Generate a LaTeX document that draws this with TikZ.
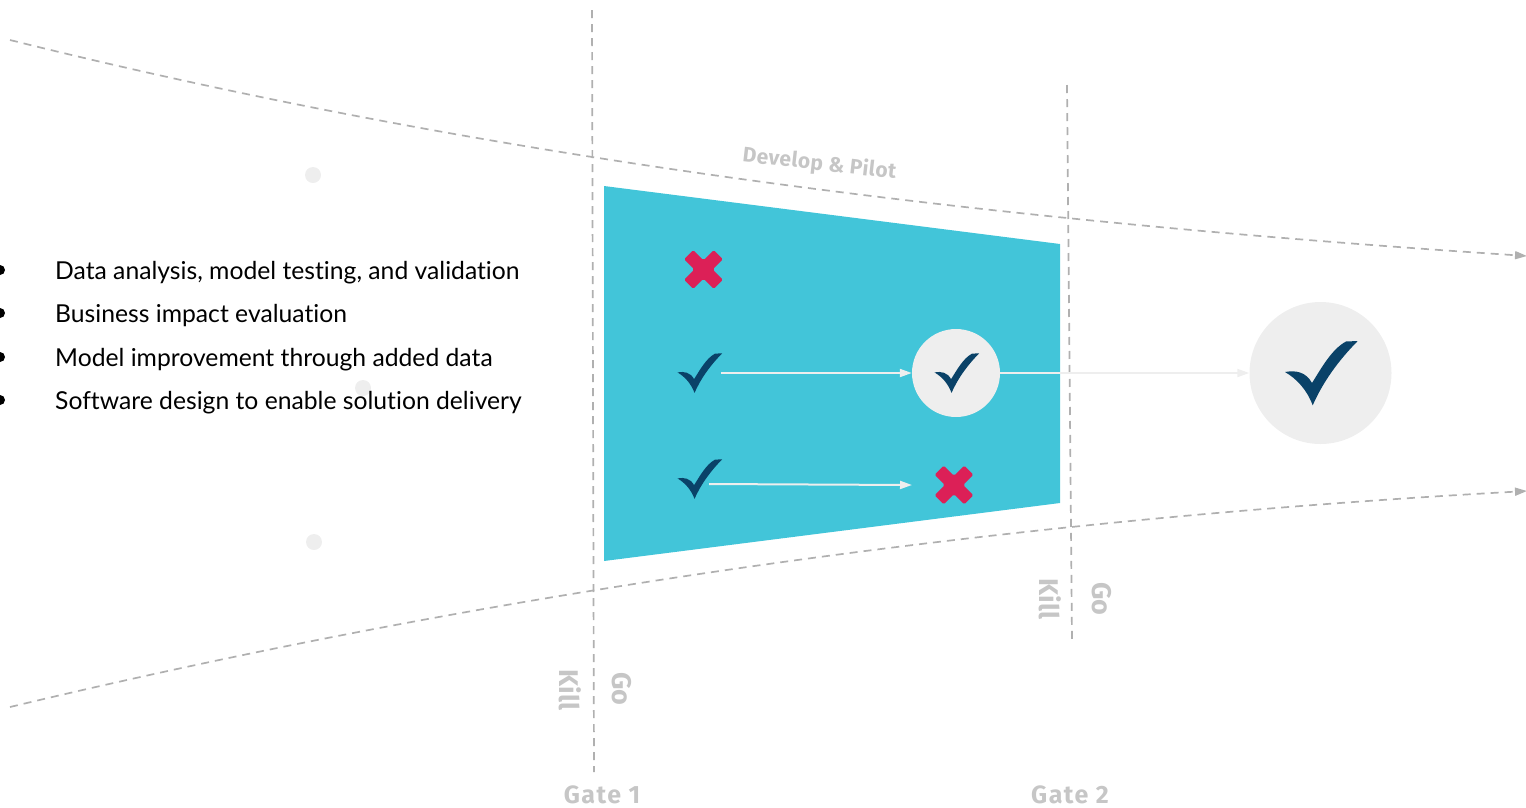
\documentclass[tikz,border=0pt]{standalone}
\usepackage{fontspec}
\setmainfont{Lato}[Ligatures=NoCommon]
\newfontfamily\labelfont{Fira Sans}[UprightFont=* Bold]
\newfontfamily\gatefont{Fira Sans}[UprightFont=* Bold,LetterSpace=6]
\newfontfamily\devfont{Fira Sans}[UprightFont=* Bold,LetterSpace=2]
\usetikzlibrary{arrows.meta}
\definecolor{teal}{HTML}{42C5D9}
\definecolor{navy}{HTML}{0A4268}
\definecolor{crimson}{HTML}{DC2057}
\definecolor{soft}{HTML}{EEEEEE}
\definecolor{guide}{HTML}{B0B0B0}
\definecolor{labelgrey}{HTML}{C6C6C6}
\tikzset{
  guideline/.style={draw=guide,line width=1.7pt,dash pattern=on 8pt off 6pt},
  guidearrow/.style={guideline,-{Triangle[length=12pt,width=8pt,fill=guide]}},
  flow/.style={draw=soft,line width=2pt,-{Triangle[length=12pt,width=8pt,fill=soft]}},
  softdot/.style={circle,fill=soft,minimum size=16pt,inner sep=0pt},
  gatelabel/.style={font=\gatefont\fontsize{25}{25}\selectfont,text=labelgrey,inner sep=0pt,anchor=base},
  sidelabel/.style={font=\labelfont\fontsize{27}{27}\selectfont,text=labelgrey,inner sep=0pt,rotate=-90},
  bulletdot/.style={circle,fill=black,minimum size=10pt,inner sep=0pt},
  itemtext/.style={anchor=base west,inner sep=0pt,font=\fontsize{24.7}{28}\selectfont,text=black},
  hub/.style={circle,fill=soft,inner sep=0pt},
}
\newcommand{\tick}[2]{% centre, scale
  \fill[navy,shift={#1},scale=#2] (-35,-1) .. controls (-24,-3) and (-14,-1) .. (-8,10)
    .. controls (2,-6) and (12,-24) .. (26,-31.5) -- (37.7,-32)
    .. controls (18,-12) and (3,9) .. (-7.3,32.3)
    .. controls (-13,17) and (-23,6) .. (-35,-1) -- cycle;}
\newcommand{\cross}[1]{%
  \fill[crimson,shift={#1},rotate=45,rounded corners=1.6pt]
    (-6.5,-21) -- (6.5,-21) -- (6.5,-6.5) -- (21,-6.5) -- (21,6.5) -- (6.5,6.5) -- (6.5,21) -- (-6.5,21) -- (-6.5,6.5) -- (-21,6.5) -- (-21,-6.5) -- (-6.5,-6.5) -- cycle;}
\begin{document}
\begin{tikzpicture}[x=1pt,y=-1pt]
\useasboundingbox (0,0) rectangle (1526,807);
% faint dots
\node[softdot] (d1) at (313,175) {};
\node[softdot] (d2) at (363,388) {};
\node[softdot] (d3) at (314,542) {};
% bullets
\begin{scope}
\clip (0,0) rectangle (1526,807);
\foreach \n/\y in {a/270,b/313,c/357,d/400}{\node[bulletdot] (b\n) at (0,\y) {};}
\end{scope}
\node[itemtext] (ta) at (55,279) {Data analysis, model testing, and validation};
\node[itemtext] (tb) at (55,322) {Business impact evaluation};
\node[itemtext] (tc) at (55,366) {Model improvement through added data};
\node[itemtext] (td) at (55,409) {Software design to enable solution delivery};
% funnel
\fill[teal] (604,186) -- (1060,244) -- (1060,503) -- (604,561) -- cycle;
% guides
\coordinate (g1t) at (592,10); \coordinate (g1b) at (594,772);
\coordinate (g2t) at (1067,85); \coordinate (g2b) at (1072,640);
\coordinate (us) at (10,40); \coordinate (ue) at (1527,256);
\coordinate (ls) at (10,707); \coordinate (le) at (1527,491);
\draw[guideline] (g1t) -- (g1b);
\draw[guideline] (g2t) -- (g2b);
\draw[guidearrow] (us) .. controls (516,166) and (1021,222.4) .. (ue);
\draw[guidearrow] (ls) .. controls (516,586) and (1021,519) .. (le);
% hubs
\node[hub,minimum size=88pt] (h1) at (956,373) {};
\node[hub,minimum size=142pt] (h2) at (1320.5,373) {};
% flows
\coordinate (s1) at (721,373); \coordinate (s2) at (709,484);
\coordinate (e2) at (912,485);
\draw[flow] (s1) -- (h1.west);
\draw[flow] (s2) -- (e2);
\draw[flow] (h1.east) -- (h2.west);
% icons
\tick{(699,373)}{0.615}
\tick{(699,479)}{0.615}
\tick{(956,373)}{0.615}
\tick{(1320,373)}{1}
\cross{(703.5,269.5)}
\cross{(954,485)}
% labels
\node[gatelabel] (g1) at (602,803) {Gate 1};
\node[gatelabel] (g2) at (1070,803) {Gate 2};
\node[sidelabel] (k1) at (570,690) {Kill};
\node[sidelabel] (go1) at (622,689) {Go};
\node[sidelabel] (k2) at (1050,599) {Kill};
\node[sidelabel] (go2) at (1102,599) {Go};
\node[font=\devfont\fontsize{21}{21}\selectfont,text=labelgrey,inner sep=0pt,rotate=-6.5] (dp) at (819.5,164) {Develop \& Pilot};
\end{tikzpicture}
\end{document}
